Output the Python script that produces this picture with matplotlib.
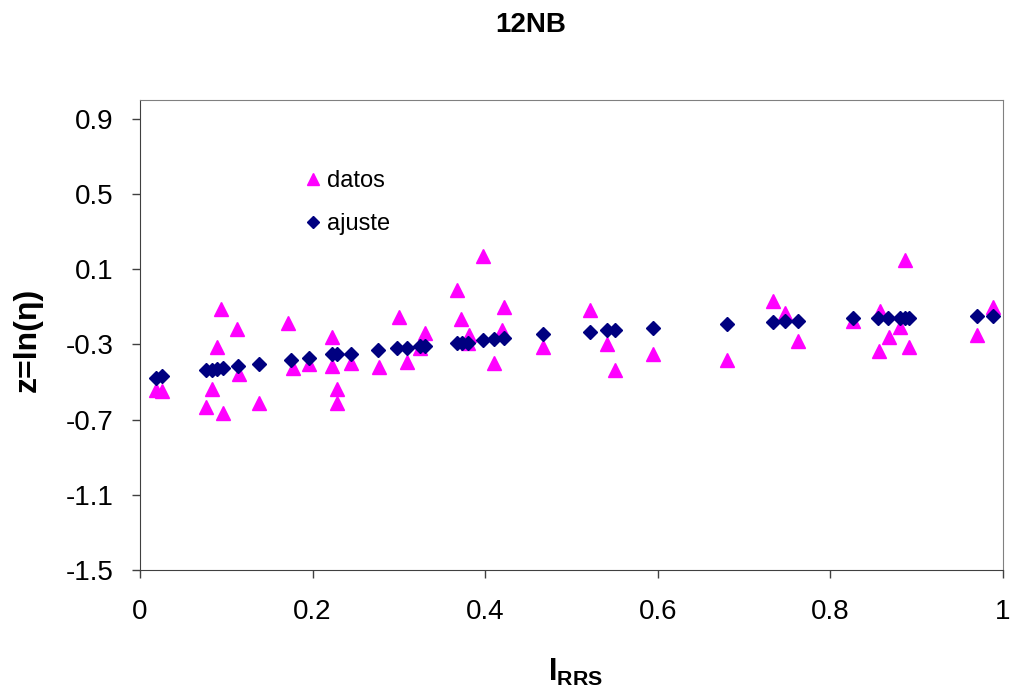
import matplotlib
matplotlib.use("Agg")
import matplotlib.pyplot as plt

plt.rcParams['font.family'] = ['Liberation Sans', 'DejaVu Sans']
plt.rcParams['mathtext.fontset'] = 'custom'
plt.rcParams['mathtext.rm'] = 'Liberation Sans'
plt.rcParams['mathtext.bf'] = 'Liberation Sans:bold'

# datos (triangles)
datos_x = [0.018, 0.026, 0.077, 0.084, 0.089, 0.0935, 0.096, 0.112, 0.115, 0.1375,
           0.172, 0.177, 0.196, 0.223, 0.223, 0.228, 0.228, 0.245,
           0.2766, 0.2997, 0.309, 0.324, 0.330, 0.367, 0.372, 0.380, 0.381, 0.397,
           0.4106, 0.420, 0.422, 0.4666, 0.522, 0.541, 0.550, 0.594, 0.680,
           0.733, 0.7474, 0.763, 0.826, 0.856, 0.857, 0.8675, 0.881, 0.886, 0.8906,
           0.9695, 0.988]
datos_y = [-0.541, -0.548, -0.633, -0.537, -0.314, -0.114, -0.665, -0.22, -0.46, -0.612,
           -0.187, -0.424, -0.406, -0.261, -0.417, -0.537, -0.612, -0.397,
           -0.421, -0.155, -0.394, -0.317, -0.24, -0.008, -0.164, -0.29, -0.252, 0.172,
           -0.399, -0.226, -0.102, -0.314, -0.116, -0.300, -0.435, -0.35, -0.382,
           -0.07, -0.134, -0.283, -0.176, -0.335, -0.12, -0.26, -0.208, 0.15, -0.314,
           -0.25, -0.102]

# ajuste (diamonds)
ajuste_x = [0.0185, 0.026, 0.077, 0.083, 0.089, 0.096, 0.113, 0.138, 0.175, 0.196,
            0.223, 0.228, 0.244, 0.276, 0.298, 0.309, 0.324, 0.330, 0.367, 0.373,
            0.380, 0.397, 0.4106, 0.422, 0.4666, 0.522, 0.541, 0.5504, 0.594, 0.680,
            0.733, 0.7474, 0.763, 0.826, 0.8555, 0.867, 0.8806, 0.886, 0.891,
            0.9695, 0.988]
ajuste_y = [-0.477, -0.468, -0.438, -0.438, -0.433, -0.425, -0.415, -0.406, -0.385, -0.375,
            -0.353, -0.353, -0.353, -0.332, -0.318, -0.32, -0.311, -0.307, -0.291, -0.291,
            -0.291, -0.279, -0.27, -0.267, -0.247, -0.236, -0.226, -0.226, -0.215, -0.194,
            -0.183, -0.173, -0.173, -0.162, -0.162, -0.162, -0.162, -0.162, -0.162,
            -0.151, -0.151]

x_ticks = [0, 0.2, 0.4, 0.6, 0.8, 1]
x_tick_labels = ['0', '0.2', '0.4', '0.6', '0.8', '1']
y_ticks = [-1.5, -1.1, -0.7, -0.3, 0.1, 0.5, 0.9]
y_tick_labels = ['-1.5', '-1.1', '-0.7', '-0.3', '0.1', '0.5', '0.9']

W, H = 1010, 694
fig = plt.figure(figsize=(W / 100, H / 100), dpi=100)
ax = fig.add_axes([140 / W, 1 - 570 / H, 863 / W, 470 / H])

ax.plot(datos_x, datos_y, linestyle='none', marker='^', markersize=10,
        color='#FF00FF', markeredgecolor='#FF00FF', label='datos', zorder=3)
ax.plot(ajuste_x, ajuste_y, linestyle='none', marker='D', markersize=7.5,
        color='#000080', markeredgecolor='#000080', label='ajuste', zorder=4)

ax.set_xlim(0, 1)
ax.set_ylim(-1.5, 1.0)
ax.set_xticks(x_ticks)
ax.set_xticklabels(x_tick_labels)
ax.set_yticks(y_ticks)
ax.set_yticklabels(y_tick_labels)
ax.tick_params(axis='both', labelsize=20, direction='out', length=6, width=1,
               color='#404040')
ax.tick_params(axis='x', pad=15)
ax.tick_params(axis='y', pad=13)

for s in ['top', 'right']:
    ax.spines[s].set_color('#808080')
for s in ['left', 'bottom']:
    ax.spines[s].set_color('#404040')

fig.text(531 / W, 1 - 25 / H, '12NB', ha='center', va='center', fontsize=20,
         fontweight='bold')
fig.text(575 / W, 1 - 672 / H, r'$\mathbf{I_{RRS}}$', ha='center', va='center',
         fontsize=22)
fig.text(28 / W, 1 - 340 / H, 'z=ln(η)', rotation=90, ha='center', va='center',
         fontsize=23, fontweight='bold')

leg = ax.legend(loc='upper left', bbox_to_anchor=((306 - 140) / 863, (570 - 170) / 470),
                frameon=False, fontsize=17, handletextpad=0.3, labelspacing=0.9,
                handlelength=0.6, borderaxespad=0, borderpad=0, markerscale=0.85)

fig.savefig('out.png', dpi=100)
